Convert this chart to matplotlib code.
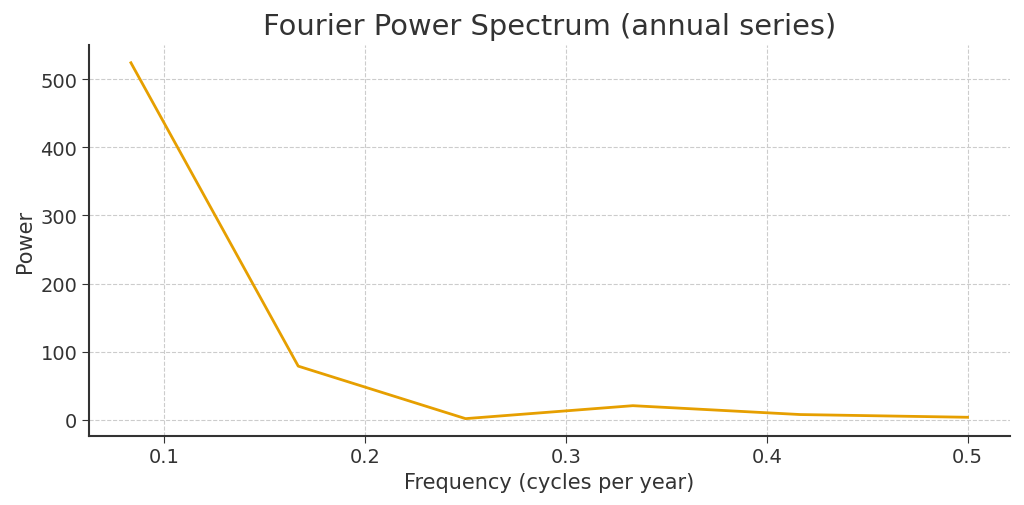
import matplotlib
matplotlib.use("Agg")
import matplotlib.pyplot as plt

frequency = [1/12, 2/12, 3/12, 4/12, 5/12, 6/12]
power = [524, 79, 2, 21, 8, 4]

plt.rcParams['font.family'] = ['DejaVu Sans']
fig = plt.figure(figsize=(10.24, 5.06), dpi=100)
ax = fig.add_axes([0.087, 0.137, 0.899, 0.772])
ax.plot(frequency, power, color='#E69F00', linewidth=2)
ax.set_title('Fourier Power Spectrum (annual series)', fontsize=20.8, color='#333333', pad=8)
ax.set_xlabel('Frequency (cycles per year)', fontsize=15, color='#333333')
ax.set_ylabel('Power', fontsize=15, color='#333333')
ax.grid(True, linestyle='--', color='#cccccc', linewidth=0.8)
ax.set_axisbelow(True)
for s in ['top', 'right']:
    ax.spines[s].set_visible(False)
for s in ['left', 'bottom']:
    ax.spines[s].set_color('#333333')
    ax.spines[s].set_linewidth(1.5)
ax.tick_params(labelsize=14, colors='#333333', length=5)
ax.set_xticks([0.1, 0.2, 0.3, 0.4, 0.5])
ax.set_yticks([0, 100, 200, 300, 400, 500])
ax.set_xlim(0.0625, 0.521)
ax.set_ylim(-23, 550)
fig.savefig('out.png', dpi=100)
